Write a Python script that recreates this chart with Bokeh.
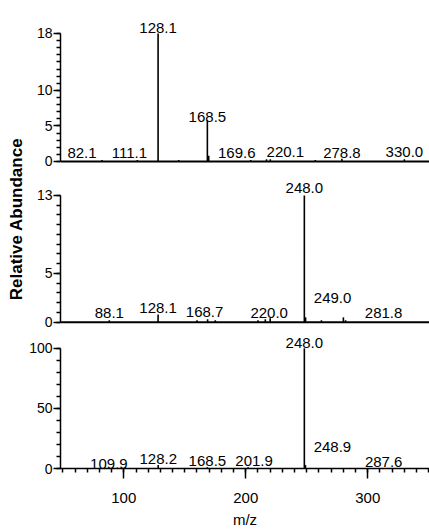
from bokeh.plotting import figure
from bokeh.models import Range1d, FixedTicker, SingleIntervalTicker, Span, Label
from bokeh.layouts import row, column
from bokeh.embed import file_html
from bokeh.resources import INLINE
from bokeh.core.properties import value

FONT = "Liberation Sans"

# ---------------- data ----------------
# panel 1 (top)
mz_1 = [82.1, 111.1, 128.1, 145.0, 168.5, 169.6, 204.0, 217.0, 220.1, 257.0, 278.8, 330.0]
int_1 = [0.2, 0.2, 18.0, 0.2, 5.8, 0.8, 0.2, 0.3, 0.3, 0.2, 0.4, 0.3]
lab_text_1 = ["82.1", "111.1", "128.1", "168.5", "169.6", "220.1", "278.8", "330.0"]
lab_mz_1 = [82.1, 111.1, 128.1, 168.5, 169.6, 220.1, 278.8, 330.0]
lab_int_1 = [0.2, 0.2, 18.0, 5.8, 0.8, 0.3, 0.4, 0.3]
yticks_1 = [0, 5, 10, 18]

# panel 2 (middle)
mz_2 = [88.1, 128.1, 160.0, 168.7, 175.0, 210.0, 216.0, 220.0, 248.0, 249.0, 262.0, 280.0, 281.8]
int_2 = [0.2, 0.8, 0.2, 0.3, 0.2, 0.2, 0.3, 0.4, 13.0, 0.5, 0.2, 0.5, 0.2]
lab_text_2 = ["88.1", "128.1", "168.7", "220.0", "248.0", "249.0", "281.8"]
lab_mz_2 = [88.1, 128.1, 168.7, 220.0, 248.0, 249.0, 281.8]
lab_int_2 = [0.2, 0.8, 0.3, 0.4, 13.0, 0.5, 0.2]
yticks_2 = [0, 5, 13]

# panel 3 (bottom)
mz_3 = [109.9, 128.2, 168.5, 201.9, 248.0, 248.9, 287.6]
int_3 = [0.5, 3.0, 1.0, 1.0, 100.0, 3.0, 0.5]
lab_text_3 = ["109.9", "128.2", "168.5", "201.9", "248.0", "248.9", "287.6"]
lab_mz_3 = [109.9, 128.2, 168.5, 201.9, 248.0, 248.9, 287.6]
lab_int_3 = [0.5, 3.0, 1.0, 1.0, 100.0, 3.0, 0.5]
yticks_3 = [0, 50, 100]

x_label = "m/z"
y_label = "Relative Abundance"

# ---------------- label placement (pixels) ----------------
dx_1 = [-20, -8, 0, 0, 28, 15, 0, 0]
gap_1 = [7, 7, 5, 3, 3, 7, 6, 7]
dx_2 = [0, 0, -3, -1, 0, 27, 38]
gap_2 = [7, 6, 7, 5, 7, 19, 7]
dx_3 = [-27, 0, 0, 6, 0, 27, 31]
gap_3 = [4, 6, 6, 6, 5, 18, 6]

X_RANGE = Range1d(48.1, 350.6)
STRIP_W = 26
PANEL_W = 429 - STRIP_W


def make_panel(height, yr, ticker, bounds, show_x):
    p = figure(width=PANEL_W, height=height, x_range=X_RANGE, y_range=Range1d(*yr),
               output_backend="svg", toolbar_location=None,
               x_axis_type=("linear" if show_x else None),
               min_border_left=34, min_border_right=0, min_border_top=0,
               min_border_bottom=(60 if show_x else 0))
    p.grid.visible = False
    p.outline_line_color = None
    ya = p.yaxis[0]
    ya.ticker = ticker
    ya.bounds = bounds
    ya.axis_line_width = 1.5
    ya.major_tick_line_width = 1.5
    ya.minor_tick_line_width = 1.5
    ya.minor_tick_line_color = "black"
    ya.major_tick_out = 7
    ya.major_tick_in = 0
    ya.minor_tick_out = 4
    ya.minor_tick_in = 0
    ya.major_label_standoff = 1
    ya.major_label_text_font = FONT
    ya.major_label_text_font_size = "14px"
    ya.major_label_text_color = "black"
    if show_x:
        xa = p.xaxis[0]
        xa.ticker = SingleIntervalTicker(interval=100, num_minor_ticks=10)
        xa.axis_line_width = 1.5
        xa.major_tick_line_width = 1.5
        xa.minor_tick_line_width = 1.5
        xa.major_tick_out = 10
        xa.major_tick_in = 0
        xa.minor_tick_out = 4
        xa.minor_tick_in = 0
        xa.major_label_standoff = 14
        xa.major_label_text_font = FONT
        xa.major_label_text_font_size = "15px"
        xa.major_label_text_color = "black"
        xa.axis_label = x_label
        xa.axis_label_text_font = FONT
        xa.axis_label_text_font_size = "15px"
        xa.axis_label_text_font_style = "normal"
        xa.axis_label_text_color = "black"
        xa.axis_label_standoff = 5
    return p


def draw(p, mz, inten, lmz, lint, ltext, dx, gap, baseline):
    if baseline:
        p.add_layout(Span(location=0, dimension="width", line_color="black", line_width=2))
    p.segment(x0=mz, y0=[0] * len(mz), x1=mz, y1=inten, line_color="black", line_width=1.6)
    p.text(x=lmz, y=lint, text=ltext, x_offset=dx, y_offset=[-g for g in gap],
           text_align="center", text_baseline="alphabetic",
           text_font=value(FONT), text_font_size="15px", text_color="black")


t1 = FixedTicker(ticks=yticks_1, minor_ticks=list(range(0, 19)))
p1 = make_panel(170, (-1.266, 22.64), t1, (0, 18), False)
draw(p1, mz_1, int_1, lab_mz_1, lab_int_1, lab_text_1, dx_1, gap_1, True)

t2 = FixedTicker(ticks=yticks_2, minor_ticks=list(range(0, 14)))
p2 = make_panel(160, (-0.852, 15.565), t2, (0, 13), False)
draw(p2, mz_2, int_2, lab_mz_2, lab_int_2, lab_text_2, dx_2, gap_2, True)

t3 = SingleIntervalTicker(interval=50, num_minor_ticks=5)
p3 = make_panel(200, (0, 114.8), t3, (0, 100), True)
draw(p3, mz_3, int_3, lab_mz_3, lab_int_3, lab_text_3, dx_3, gap_3, False)

# y-axis title strip
pl = figure(width=STRIP_W, height=530, x_range=Range1d(0, STRIP_W), y_range=Range1d(530, 0),
            output_backend="svg", toolbar_location=None,
            x_axis_type=None, y_axis_type=None, min_border=0)
pl.outline_line_color = None
pl.add_layout(Label(x=16, y=218.5, text=y_label, angle=90, angle_units="deg",
                    text_align="center", text_baseline="middle",
                    text_font=FONT, text_font_size="17px", text_font_style="bold",
                    text_color="black"))

layout = row(pl, column(p1, p2, p3))
open("out.html", "w").write(file_html(layout, INLINE))
